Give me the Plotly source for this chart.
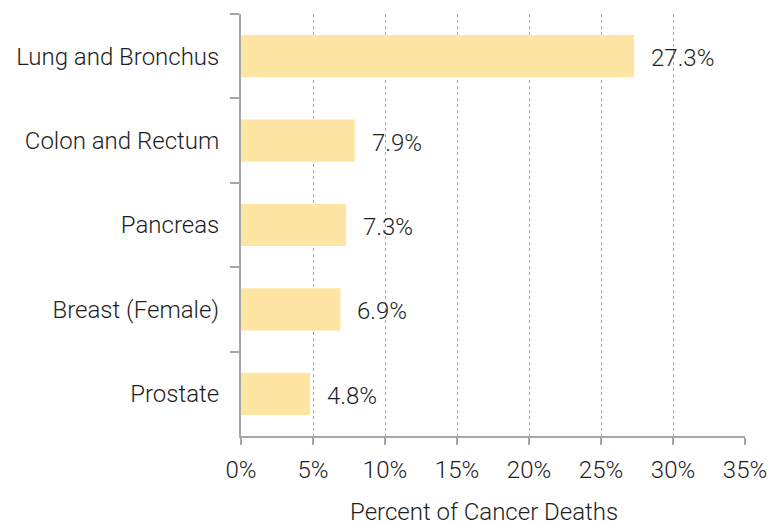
import plotly.graph_objects as go

categories = ["Lung and Bronchus", "Colon and Rectum", "Pancreas", "Breast (Female)", "Prostate"]
values = [27.3, 7.9, 7.3, 6.9, 4.8]
labels = ["27.3%", "7.9%", "7.3%", "6.9%", "4.8%"]
x_ticks = [0, 5, 10, 15, 20, 25, 30, 35]
x_ticklabels = ["0%", "5%", "10%", "15%", "20%", "25%", "30%", "35%"]
x_title = "Percent of Cancer Deaths"

FONT = "Roboto"
FS = 24
W = 300
TXT = "#1e1e1e"
AX = "#a6a6a6"

fig = go.Figure()
fig.add_trace(go.Bar(
    x=values, y=categories, orientation="h",
    marker=dict(color="#fee5a3", line=dict(width=0)),
    width=0.5,
    textposition="none", hoverinfo="skip",
))
for v, c, t in zip(values, categories, labels):
    fig.add_annotation(x=v, y=c, text=t, showarrow=False, xanchor="left",
                       xshift=15, yshift=-2, font=dict(family=FONT, size=FS, color=TXT, weight=W))

fig.add_annotation(x=0.482, y=-0.18, xref="paper", yref="paper", text=x_title,
                   showarrow=False, xanchor="center", yanchor="middle",
                   font=dict(family=FONT, size=FS, color=TXT, weight=W))

fig.update_layout(
    width=770, height=525,
    margin=dict(l=241, r=25, t=14, b=89),
    plot_bgcolor="white", paper_bgcolor="white",
    showlegend=False,
    font=dict(family=FONT, size=FS, color=TXT, weight=W),
    xaxis=dict(
        range=[0, 35], tickvals=x_ticks, ticktext=x_ticklabels,
        showgrid=True, gridcolor="#a8a8a8", griddash="dot", gridwidth=1,
        showline=True, linecolor=AX, linewidth=2,
        ticks="outside", ticklen=7, tickcolor=AX, tickwidth=2,
        zeroline=False, automargin=False,
        ticklabelstandoff=4,
        tickfont=dict(family=FONT, size=FS, color=TXT, weight=W),
    ),
    yaxis=dict(
        autorange="reversed", automargin=False,
        showline=True, linecolor=AX, linewidth=2,
        ticks="outside", ticklen=9, tickcolor=AX, tickwidth=2,
        tickson="boundaries", showgrid=False,
        tickfont=dict(family=FONT, size=FS, color=TXT, weight=W),
        ticklabelstandoff=15,
    ),
)

fig.write_html("out.html")
